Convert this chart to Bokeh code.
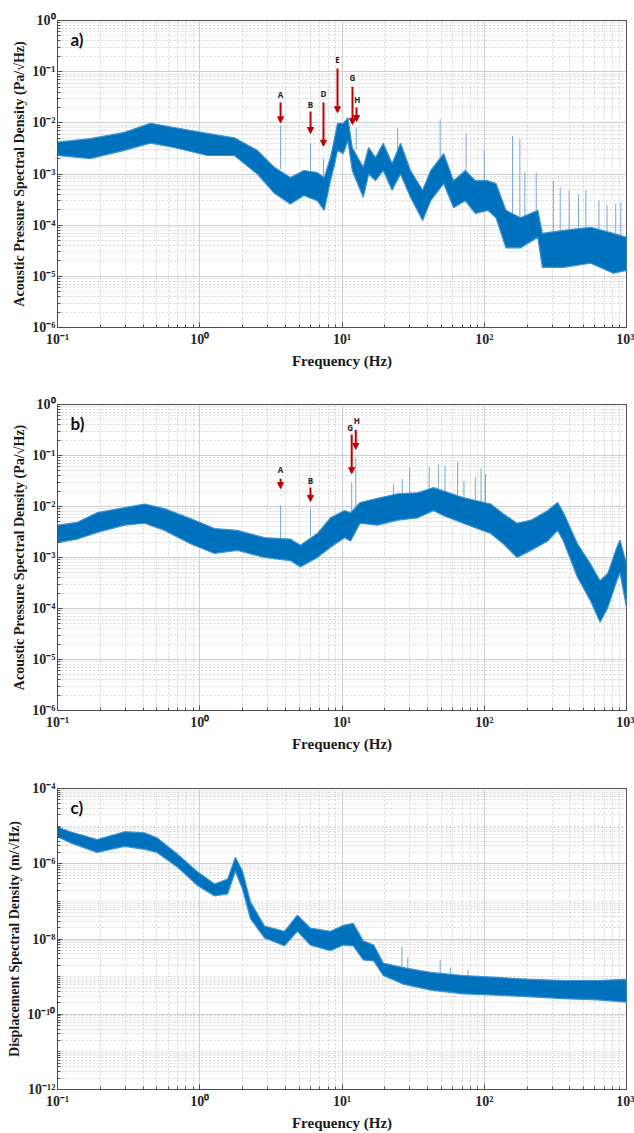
from bokeh.plotting import figure
from bokeh.models import (FixedTicker, CustomJSTickFormatter, Arrow, NormalHead,
                          ColumnDataSource, Label, Range1d)
from bokeh.layouts import column
from bokeh.embed import file_html
from bokeh.resources import INLINE
from bokeh.core.properties import value

# ---------------- data ----------------
# Panel a) acoustic pressure PSD: band envelope (lower / upper)
a_freq = [0.1, 0.17, 0.296, 0.45, 0.66, 1.13, 1.75, 2.54, 3.35, 4.33, 5.4, 6.7, 7.5,
          8.3, 8.8, 9.3, 10.2, 11.0, 11.8, 14.1, 15.4, 17.2, 19.5, 22.5, 25.8, 30.3,
          36.9, 42.0, 51.9, 60.8, 73.6, 86.5, 106, 121, 142, 180, 238, 256, 360, 560,
          810, 1000]
a_lo = [2.3e-3, 2.0e-3, 2.9e-3, 4.0e-3, 3.3e-3, 2.3e-3, 2.3e-3, 1.0e-3, 4.2e-4, 2.6e-4,
        3.8e-4, 3.0e-4, 1.95e-4, 7.4e-4, 1.4e-3, 2.9e-3, 2.5e-3, 4.5e-3, 1.17e-3, 3.5e-4,
        1.0e-3, 7.4e-4, 1.17e-3, 4.8e-4, 1.0e-3, 3.5e-4, 1.23e-4, 3.0e-4, 6.5e-4, 2.2e-4,
        3.0e-4, 1.7e-4, 1.95e-4, 1.4e-4, 3.6e-5, 3.6e-5, 5.8e-5, 1.5e-5, 1.5e-5, 1.8e-5,
        1.15e-5, 1.3e-5]
a_hi = [4.2e-3, 4.9e-3, 6.5e-3, 9.8e-3, 8.1e-3, 6.2e-3, 5.1e-3, 2.9e-3, 1.35e-3, 8.5e-4,
        1.17e-3, 1.07e-3, 8.5e-4, 2.1e-3, 4.5e-3, 9.8e-3, 9.8e-3, 1.26e-2, 3.3e-3, 1.35e-3,
        3.3e-3, 2.1e-3, 4.0e-3, 1.6e-3, 4.0e-3, 1.17e-3, 4.8e-4, 1.17e-3, 2.5e-3, 7.4e-4,
        1.17e-3, 7.4e-4, 7.4e-4, 6.5e-4, 1.95e-4, 1.4e-4, 1.95e-4, 6.9e-5, 7.9e-5, 9.1e-5,
        6.9e-5, 5.8e-5]
a_spike_f = [3.70, 6.01, 7.41, 12.6, 24.6, 49.0, 74.5, 100, 158, 178, 193, 232, 306, 342,
             395, 460, 518, 640, 730, 840, 912]
a_spike_top = [8.9e-3, 4.0e-3, 2.0e-3, 8.1e-3, 7.8e-3, 1.17e-2, 6.2e-3, 2.9e-3, 5.6e-3,
               4.9e-3, 1.07e-3, 1.07e-3, 7.4e-4, 5.5e-4, 4.8e-4, 4.0e-4, 4.8e-4, 3.0e-4,
               2.5e-4, 2.6e-4, 2.8e-4]
a_spike_base = [1.26e-3, 1.07e-3, 8.5e-4, 3.0e-3, 2.5e-3, 1.6e-3, 1.2e-3, 7.4e-4, 1.6e-4,
                1.4e-4, 1.4e-4, 1.95e-4, 7.9e-5, 7.9e-5, 7.9e-5, 8.0e-5, 9.0e-5, 8.0e-5,
                7.0e-5, 7.0e-5, 6.0e-5]
a_marks = ["A", "B", "D", "E", "G", "H"]
a_mark_f = [3.70, 6.01, 7.41, 9.30, 11.85, 12.65]
a_mark_top = [2.5e-2, 1.67e-2, 2.5e-2, 0.115, 5.1e-2, 2.0e-2]
a_mark_tip = [1.0e-2, 6.2e-3, 3.5e-3, 1.58e-2, 9.3e-3, 1.06e-2]
a_mark_lab_f = [3.70, 6.01, 7.41, 9.30, 11.85, 12.8]
a_mark_lab_y = [3.6e-2, 2.3e-2, 3.7e-2, 0.173, 7.7e-2, 2.9e-2]

# Panel b) acoustic pressure PSD
b_freq = [0.1, 0.138, 0.191, 0.296, 0.41, 0.565, 0.86, 1.27, 1.84, 2.85, 4.33, 5.1, 6.7,
          8.3, 10.4, 11.5, 13.4, 17.8, 24.6, 34.0, 44, 52, 71, 111, 136, 170, 213, 279,
          328, 360, 452, 556, 652, 740, 855, 900, 1000]
b_lo = [1.95e-3, 2.3e-3, 3.1e-3, 4.3e-3, 4.7e-3, 3.4e-3, 1.86e-3, 1.2e-3, 1.38e-3, 1.0e-3,
        8.7e-4, 6.5e-4, 1.0e-3, 1.58e-3, 2.45e-3, 2.1e-3, 4.7e-3, 4.3e-3, 5.4e-3, 6.0e-3,
        8.3e-3, 6.6e-3, 4.7e-3, 2.95e-3, 1.86e-3, 1.0e-3, 1.38e-3, 2.1e-3, 3.4e-3, 2.1e-3,
        4.1e-4, 1.45e-4, 5.4e-5, 1.05e-4, 3.5e-4, 5.0e-4, 1.05e-4]
b_hi = [4.3e-3, 4.9e-3, 7.6e-3, 9.5e-3, 1.12e-2, 9.1e-3, 5.8e-3, 3.7e-3, 3.4e-3, 2.45e-3,
        2.3e-3, 1.74e-3, 2.95e-3, 6.0e-3, 8.3e-3, 7.6e-3, 1.2e-2, 1.45e-2, 1.78e-2, 1.86e-2,
        2.35e-2, 2.0e-2, 1.5e-2, 1.12e-2, 7.2e-3, 4.7e-3, 5.4e-3, 8.3e-3, 1.2e-2, 7.6e-3,
        1.86e-3, 7.6e-4, 3.5e-4, 4.9e-4, 1.58e-3, 2.2e-3, 7.6e-4]
b_spike_f = [3.7, 6.0, 11.7, 12.5, 23, 26.5, 29.9, 41, 47.6, 53, 65, 72, 86.5, 95, 102]
b_spike_top = [1.05e-2, 9.1e-3, 2.95e-2, 9.1e-2, 2.8e-2, 3.5e-2, 5.9e-2, 5.9e-2, 6.6e-2,
               6.3e-2, 7.4e-2, 3.2e-2, 3.7e-2, 5.6e-2, 4.4e-2]
b_spike_base = [2.3e-3, 2.6e-3, 7.0e-3, 1.0e-2, 1.5e-2, 1.7e-2, 1.7e-2, 2.2e-2, 2.2e-2,
                2.0e-2, 1.6e-2, 1.5e-2, 1.3e-2, 1.2e-2, 1.1e-2]
b_marks = ["A", "B", "G", "H"]
b_mark_f = [3.7, 6.0, 11.7, 12.5]
b_mark_top = [3.5e-2, 2.36e-2, 0.258, 0.32]
b_mark_tip = [2.25e-2, 1.26e-2, 4.4e-2, 0.132]
b_mark_lab_f = [3.7, 6.0, 11.4, 12.7]
b_mark_lab_y = [5.3e-2, 3.2e-2, 0.355, 0.485]

# Panel c) displacement spectral density
c_freq = [0.1, 0.123, 0.19, 0.296, 0.41, 0.5, 0.7, 0.97, 1.27, 1.57, 1.78, 2.0, 2.27,
          2.85, 3.94, 4.86, 6.0, 8.3, 10.2, 12.0, 14.1, 16.7, 19.5, 27, 42, 71, 124, 213,
          360, 625, 1000]
c_lo = [5.2e-6, 3.6e-6, 2.0e-6, 2.9e-6, 2.4e-6, 2.0e-6, 8.1e-7, 2.6e-7, 1.4e-7, 1.58e-7,
        6.3e-7, 2.1e-7, 3.5e-8, 1.07e-8, 6.6e-9, 1.6e-8, 6.9e-9, 4.9e-9, 6.9e-9, 6.6e-9,
        2.8e-9, 2.6e-9, 1.07e-9, 6.3e-10, 4.4e-10, 3.5e-10, 3.2e-10, 2.9e-10, 2.6e-10,
        2.4e-10, 2.1e-10]
c_hi = [9.5e-6, 7.1e-6, 4.4e-6, 7.1e-6, 6.6e-6, 4.9e-6, 1.78e-6, 6.0e-7, 2.9e-7, 3.9e-7,
        1.48e-6, 6.3e-7, 9.8e-8, 2.2e-8, 1.6e-8, 4.3e-8, 1.95e-8, 1.6e-8, 2.3e-8, 2.6e-8,
        8.9e-9, 6.9e-9, 2.3e-9, 1.74e-9, 1.29e-9, 1.07e-9, 9.5e-10, 8.5e-10, 7.9e-10,
        7.9e-10, 8.5e-10]
c_spike_f = [26.4, 29, 49, 58, 77]
c_spike_top = [6.2e-9, 3.2e-9, 2.8e-9, 1.74e-9, 1.55e-9]
c_spike_base = [1.5e-9, 1.5e-9, 1.2e-9, 1.1e-9, 1.0e-9]

x_major = [0.1, 1, 10, 100, 1000]
ab_y_major = [1e-6, 1e-5, 1e-4, 1e-3, 1e-2, 1e-1, 1]
c_y_major = [1e-12, 1e-10, 1e-8, 1e-6, 1e-4]

# ---------------- styling ----------------
BLUE = "#0072BD"
EDGE = "#3f93d2"
SPIKE = "#74a9d8"
RED = "#C00000"
AXC = "#4d4d4d"
SERIF = "Liberation Serif"

sup_js = """
const m = {'-':'\u207b','0':'\u2070','1':'\u00b9','2':'\u00b2','3':'\u00b3','4':'\u2074',
           '5':'\u2075','6':'\u2076','7':'\u2077','8':'\u2078','9':'\u2079'};
const e = Math.round(Math.log10(tick));
return '10' + String(e).split('').map(c => m[c]).join('');
"""

x_minor = [k * 10.0 ** n for n in range(-1, 3) for k in range(2, 10)]
ab_y_minor = [k * 10.0 ** n for n in range(-6, 0) for k in range(2, 10)]
c_y_minor = [k * 10.0 ** n for n in range(-12, -4) for k in range(1, 10)
             if not (k == 1 and n % 2 == 0)]


def make_fig(height, yr, y_major, y_minor, ylabel, bt, bb):
    p = figure(width=634, height=height, x_axis_type="log", y_axis_type="log",
               x_range=Range1d(0.1, 1000), y_range=Range1d(*yr),
               output_backend="svg", toolbar_location=None,
               min_border_left=57, min_border_right=8,
               min_border_top=bt, min_border_bottom=bb)
    p.background_fill_color = "white"
    p.border_fill_color = "white"
    p.outline_line_color = AXC
    p.outline_line_width = 1

    xt = FixedTicker(ticks=x_major, minor_ticks=x_minor)
    yt = FixedTicker(ticks=y_major, minor_ticks=y_minor)
    p.xaxis.ticker = xt
    p.xgrid.ticker = xt
    p.yaxis.ticker = yt
    p.ygrid.ticker = yt

    for g in (p.xgrid[0], p.ygrid[0]):
        g.grid_line_color = "#cfcfcf"
        g.grid_line_width = 1
        g.minor_grid_line_color = "#d6d6d6"
        g.minor_grid_line_dash = "2 2"

    for ax in (p.xaxis[0], p.yaxis[0]):
        ax.formatter = CustomJSTickFormatter(code=sup_js)
        ax.major_label_text_font = SERIF
        ax.major_label_text_font_style = "bold"
        ax.major_label_text_font_size = "14px"
        ax.major_label_text_color = "#262626"
        ax.axis_label_text_font = SERIF
        ax.axis_label_text_font_style = "bold"
        ax.axis_label_text_color = "#1a1a1a"
        ax.axis_line_color = AXC
        ax.major_tick_line_color = AXC
        ax.minor_tick_line_color = AXC
        ax.major_tick_in = 5
        ax.major_tick_out = 0
        ax.minor_tick_in = 3
        ax.minor_tick_out = 0

    p.xaxis.axis_label = "Frequency (Hz)"
    p.xaxis.axis_label_text_font_size = "15px"
    p.xaxis.major_label_standoff = 4
    p.xaxis.axis_label_standoff = 3
    p.yaxis.axis_label = ylabel
    p.yaxis.axis_label_text_font_size = "14px"
    p.yaxis.major_label_standoff = 2
    p.yaxis.axis_label_standoff = 2
    return p


def draw_band(p, f, lo, hi, sf, stop, sbase):
    p.segment(x0=sf, y0=sbase, x1=sf, y1=stop, line_color=SPIKE, line_width=1)
    p.patch(x=f + f[::-1], y=hi + lo[::-1], fill_color=BLUE, line_color=EDGE,
            line_width=1.2)


def draw_marks(p, labs, mf, mtop, mtip, lf, ly):
    src = ColumnDataSource(dict(f=mf, top=mtop, tip=mtip))
    p.add_layout(Arrow(end=NormalHead(size=6, fill_color=RED, line_color=RED),
                       x_start="f", y_start="top", x_end="f", y_end="tip",
                       source=src, line_color=RED, line_width=2))
    p.text(x=lf, y=ly, text=labs, text_font=value("Open Sans"),
           text_font_style="bold", text_font_size="8px", text_align="center",
           text_baseline="middle", text_color="#222222")


def panel_label(p, txt, y):
    p.add_layout(Label(x=0.1234, y=y, text=txt, text_font="Lato",
                       text_font_style="bold", text_font_size="17px",
                       text_baseline="middle", text_color="#111111"))


ylab_ab = "Acoustic Pressure Spectral Density (Pa/\u221aHz)"

pa = make_fig(390, (1e-6, 1), ab_y_major, ab_y_minor, ylab_ab, 20, 63)
draw_band(pa, a_freq, a_lo, a_hi, a_spike_f, a_spike_top, a_spike_base)
draw_marks(pa, a_marks, a_mark_f, a_mark_top, a_mark_tip, a_mark_lab_f, a_mark_lab_y)
panel_label(pa, "a)", 0.42)

pb = make_fig(384, (1e-6, 1), ab_y_major, ab_y_minor, ylab_ab, 14, 64)
draw_band(pb, b_freq, b_lo, b_hi, b_spike_f, b_spike_top, b_spike_base)
draw_marks(pb, b_marks, b_mark_f, b_mark_top, b_mark_tip, b_mark_lab_f, b_mark_lab_y)
panel_label(pb, "b)", 0.42)

pc = make_fig(359, (1e-12, 1e-4), c_y_major, c_y_minor,
              "Displacement Spectral Density (m/\u221aHz)", 14, 39)
draw_band(pc, c_freq, c_lo, c_hi, c_spike_f, c_spike_top, c_spike_base)
panel_label(pc, "c)", 3.2e-5)

layout = column(pa, pb, pc)
open("out.html", "w").write(file_html(layout, INLINE))
